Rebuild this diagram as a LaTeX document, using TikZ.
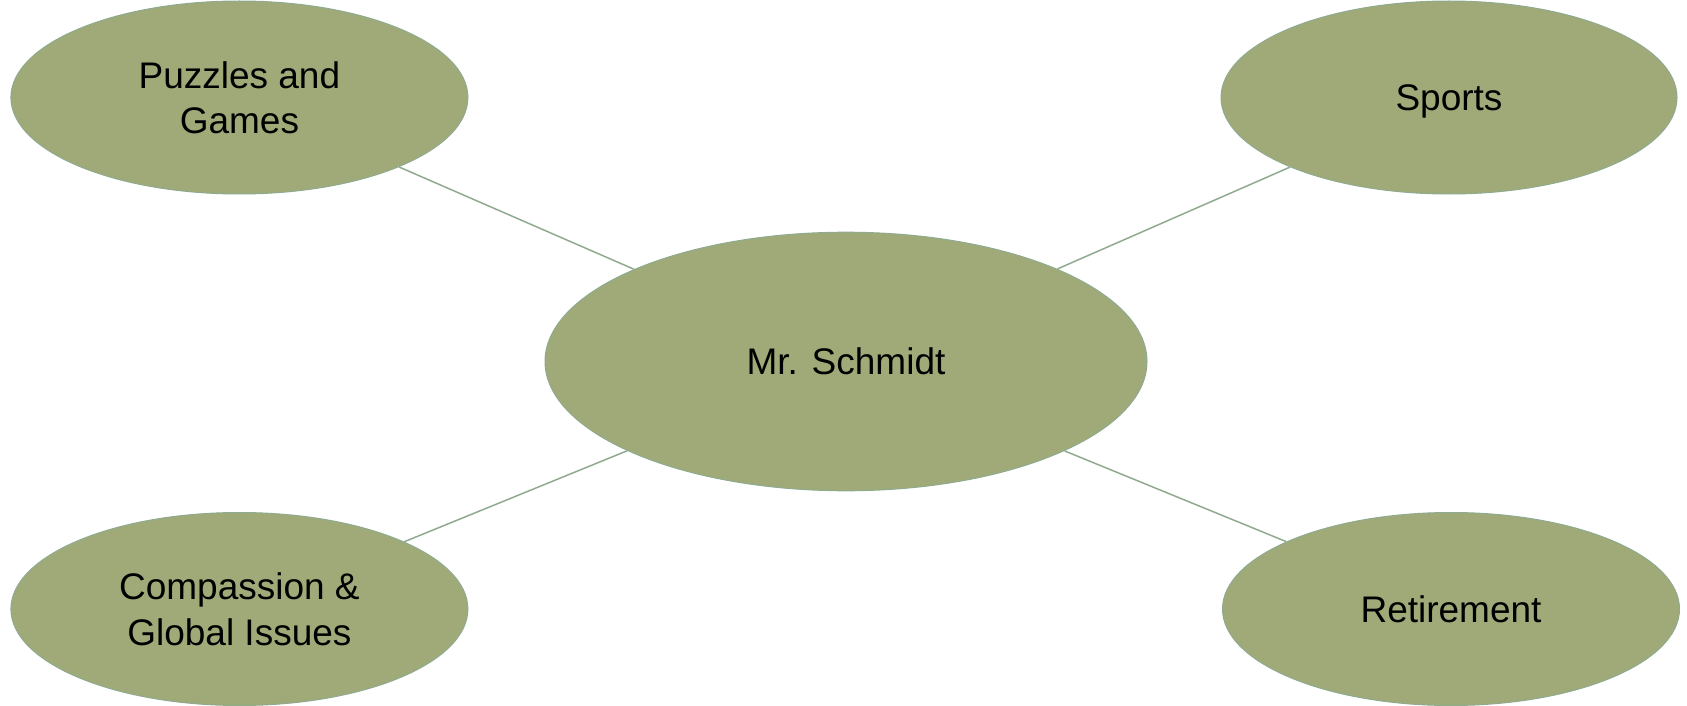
\documentclass[tikz,border=0pt]{standalone}
\usepackage{fontspec}
\setmainfont{Liberation Sans}
\usetikzlibrary{shapes.geometric}
\definecolor{topicfill}{HTML}{A0AA78}
\definecolor{topicline}{HTML}{8FAA8F}
\begin{document}
\begin{tikzpicture}[x=0.5pt,y=-0.5pt,
  topic/.style={ellipse, draw=topicline, line width=0.5pt, fill=topicfill,
    inner sep=0pt, align=center, text=black, text depth=0pt,
    font=\fontsize{18.5}{22.6}\selectfont},
  link/.style={draw=topicline, line width=0.75pt}]
  \useasboundingbox (0,0) rectangle (1687,706);
  \node[topic, minimum width=301pt, minimum height=129.3pt] (hub) at (846,361.5) {Mr. Schmidt};
  \node[topic, minimum width=228.5pt, minimum height=96.5pt] (puzzles) at (239.4,97.5) {Puzzles and\\Games};
  \node[topic, minimum width=228pt, minimum height=96.5pt] (sports) at (1449,97.5) {Sports};
  \node[topic, minimum width=228.5pt, minimum height=96.5pt] (global) at (239.4,609) {Compassion \&\\Global Issues};
  \node[topic, minimum width=228.5pt, minimum height=96.5pt] (retire) at (1451,609) {Retirement};
  \draw[link] (hub) -- (puzzles);
  \draw[link] (hub) -- (sports);
  \draw[link] (hub) -- (global);
  \draw[link] (hub) -- (retire);
\end{tikzpicture}
\end{document}
